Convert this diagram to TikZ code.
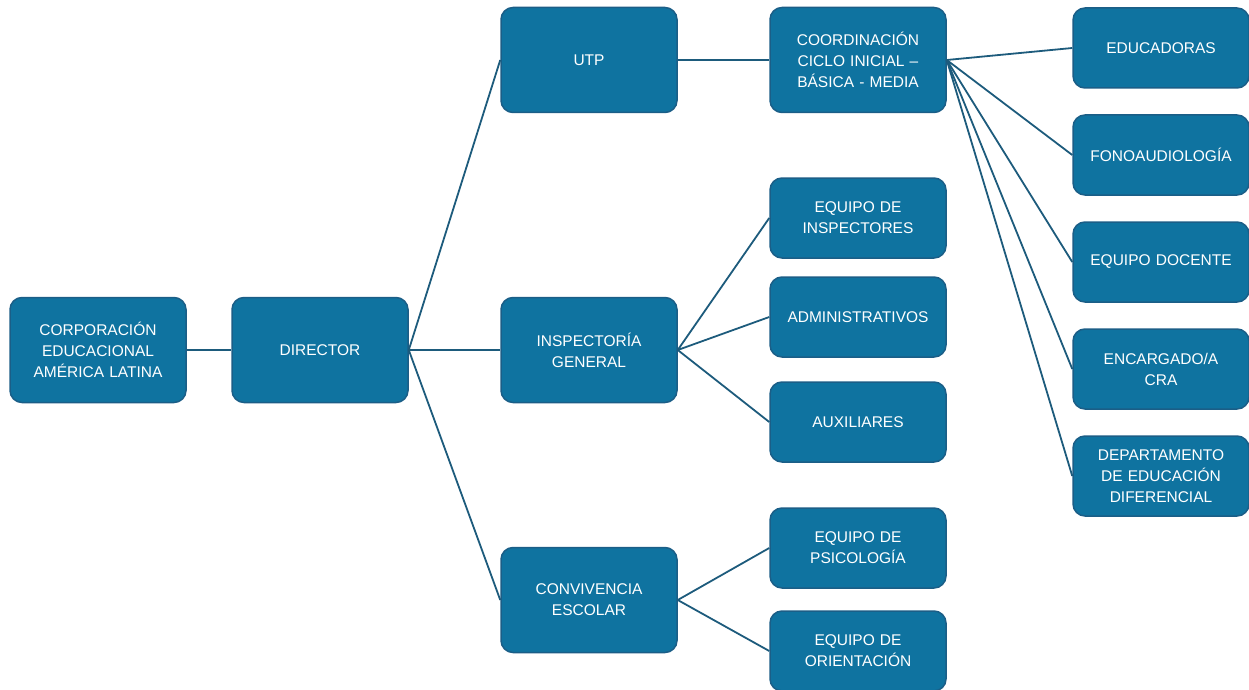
\documentclass[tikz,border=0pt]{standalone}
\usepackage{fontspec}
\setmainfont{Liberation Sans}
\definecolor{boxfill}{HTML}{0F73A0}
\definecolor{boxline}{HTML}{1B5E87}
\definecolor{linkcol}{HTML}{1D5B7C}
\begin{document}
\begin{tikzpicture}[x=1pt,y=-1pt,
        unit/.style={draw=boxline,fill=boxfill,line width=1.5pt,rounded corners=12pt,
            text=white,align=center,minimum width=176pt,text width=168pt,inner sep=2pt,
            font=\fontsize{15.5}{21}\selectfont},
        big/.style={unit,minimum height=105pt},
        small/.style={unit,minimum height=80pt},
        link/.style={draw=linkcol,line width=1.8pt}]
\useasboundingbox (0,0) rectangle (1249,690);

\node[big] (corp) at (98,350) {CORPORACIÓN\\EDUCACIONAL\\AMÉRICA LATINA};
\node[big] (dir) at (320,350) {DIRECTOR};

\node[big] (utp) at (589,60) {UTP};
\node[big] (insp) at (589,350) {INSPECTORÍA\\GENERAL};
\node[big] (conv) at (589,600) {CONVIVENCIA\\ESCOLAR};

\node[big] (coord) at (858,60) {COORDINACIÓN\\CICLO INICIAL –\\BÁSICA - MEDIA};
\node[small] (inspect) at (858,218) {EQUIPO DE\\INSPECTORES};
\node[small] (admin) at (858,317) {ADMINISTRATIVOS};
\node[small] (aux) at (858,422) {AUXILIARES};
\node[small] (psico) at (858,548) {EQUIPO DE\\PSICOLOGÍA};
\node[small] (orient) at (858,651) {EQUIPO DE\\ORIENTACIÓN};

\node[small] (educ) at (1161,48) {EDUCADORAS};
\node[small] (fono) at (1161,155) {FONOAUDIOLOGÍA};
\node[small] (doc) at (1161,262) {EQUIPO DOCENTE};
\node[small] (cra) at (1161,369) {ENCARGADO/A\\CRA};
\node[small] (dif) at (1161,476) {DEPARTAMENTO\\DE EDUCACIÓN\\DIFERENCIAL};

\draw[link] (corp.east) -- (dir.west);
\foreach \n in {utp,insp,conv}
    \draw[link] (dir.east) -- (\n.west);
\draw[link] (utp.east) -- (coord.west);
\foreach \n in {inspect,admin,aux}
    \draw[link] (insp.east) -- (\n.west);
\foreach \n in {psico,orient}
    \draw[link] (conv.east) -- (\n.west);
\foreach \n in {educ,fono,doc,cra,dif}
    \draw[link] (coord.east) -- (\n.west);

\end{tikzpicture}
\end{document}
